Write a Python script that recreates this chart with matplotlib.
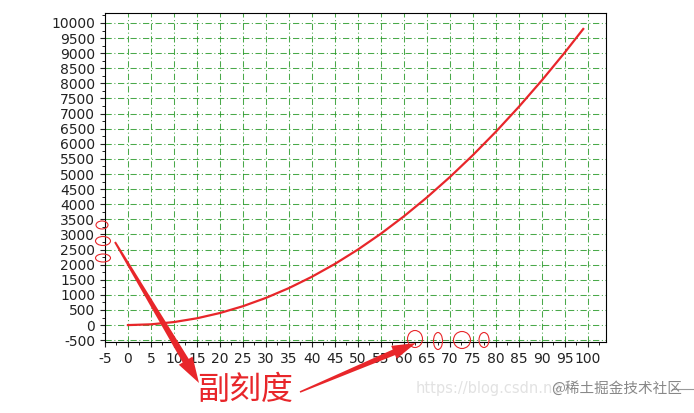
import matplotlib.pyplot as plt
from matplotlib.ticker import MultipleLocator
from matplotlib.patches import Ellipse, Polygon
import numpy as np

plt.rcParams['axes.unicode_minus'] = False

# curve values
xs = [0, 5, 10, 15, 20, 25, 30, 35, 40, 45, 50, 55, 60, 65, 70, 75, 80, 85, 90, 95, 99]
ys = [0, 25, 100, 225, 400, 625, 900, 1225, 1600, 2025, 2500, 3025, 3600, 4225,
      4900, 5625, 6400, 7225, 8100, 9025, 9801]

RED = "#e8262a"

fig = plt.figure(figsize=(6.94, 4.13), dpi=100)
ax = fig.add_axes([105/694, 1-342/413, (606-105)/694, (342-13)/413])
ax.plot(xs, ys, color=RED, linewidth=1.6)
ax.set_xlim(-5, 103.95)
ax.set_ylim(-560, 10330)

ax.xaxis.set_major_locator(MultipleLocator(5))
ax.xaxis.set_minor_locator(MultipleLocator(2.5))
ax.yaxis.set_major_locator(MultipleLocator(500))
ax.yaxis.set_minor_locator(MultipleLocator(250))
ax.tick_params(labelsize=10, colors="#222222")
ax.grid(which="major", color="#2a9a2a", linestyle=(0, (6, 2.5, 1, 2.5)), linewidth=0.75, alpha=0.85)

# overlay in pixel coords for the hand-drawn notes
ov = fig.add_axes([0, 0, 1, 1])
ov.set_xlim(0, 694)
ov.set_ylim(413, 0)
ov.axis("off")
ov.patch.set_alpha(0)

# red circles around minor ticks
for cx, cy, w, h in [(102, 225, 12, 8), (103, 241, 15, 9), (103, 258, 15, 8),
                     (415, 339, 15, 17), (438, 341, 9, 17), (462, 340, 17, 17), (484, 340, 10, 15)]:
    ov.add_patch(Ellipse((cx, cy), w, h, fill=False, edgecolor=RED, linewidth=0.8))

def tapered_arrow(p0, p1, w0=1.0, w1=3.5, head_len=26, head_w=8):
    p0 = np.array(p0, float)
    p1 = np.array(p1, float)
    d = p1 - p0
    d /= np.hypot(*d)
    n = np.array([-d[1], d[0]])
    base = p1 - d * head_len
    pts = [p0 + n*w0, base + n*w1, base + n*head_w, p1,
           base - n*head_w, base - n*w1, p0 - n*w0]
    ov.add_patch(Polygon(pts, closed=True, color=RED, linewidth=0))

tapered_arrow((115, 242), (199, 383))
tapered_arrow((300, 392), (416, 343), w0=0.8, w1=3.0, head_len=24, head_w=7)

ov.text(197, 390, "副刻度", color=RED, fontsize=23, va="center", ha="left",
        family=["Noto Sans CJK SC", "DejaVu Sans"])

ov.text(416, 389, "https://blog.csdn.ne", color="#e2e2e2", fontsize=10.5, va="center", ha="left")
ov.text(551, 388, "@稀土掘金技术社区", color="#888888", fontsize=10.5, va="center", ha="left",
        family=["Noto Sans CJK SC", "DejaVu Sans"])
ov.plot([672, 694], [389, 389], color="#999999", linewidth=0.8)

fig.savefig("out.png", dpi=100)
